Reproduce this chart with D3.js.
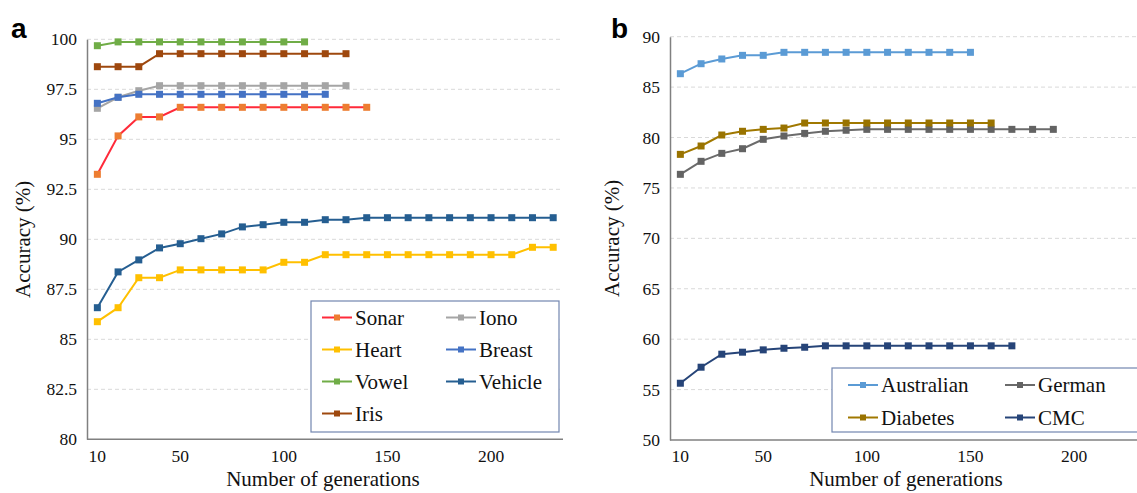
<!DOCTYPE html>
<html>
<head>
<meta charset="utf-8">
<script src="https://cdn.jsdelivr.net/npm/d3@7"></script>
<style>
  body { margin: 0; background: #fff; }
  svg text { font-family: "Liberation Serif", "Times New Roman", serif; }
</style>
</head>
<body>
<div id="chart"></div>
<script>
// generations (x categories), same for both panels
const generations = [10, 20, 30, 40, 50, 60, 70, 80, 90, 100, 110, 120, 130, 140, 150, 160, 170, 180, 190, 200, 210, 220, 230];
const xTickLabels = [10, 50, 100, 150, 200];

// panel a series (values start at generation 10)
const sonar   = [93.25, 95.17, 96.12, 96.12, 96.6, 96.6, 96.6, 96.6, 96.6, 96.6, 96.6, 96.6, 96.6, 96.6];
const iono    = [96.55, 97.1, 97.43, 97.68, 97.68, 97.68, 97.68, 97.68, 97.68, 97.68, 97.68, 97.68, 97.68];
const heart   = [85.88, 86.58, 88.08, 88.08, 88.47, 88.47, 88.47, 88.47, 88.47, 88.85, 88.85, 89.23, 89.23, 89.23, 89.23, 89.23, 89.23, 89.23, 89.23, 89.23, 89.23, 89.6, 89.6];
const breast  = [96.8, 97.1, 97.25, 97.25, 97.25, 97.25, 97.25, 97.25, 97.25, 97.25, 97.25, 97.25];
const vowel   = [99.68, 99.87, 99.87, 99.87, 99.87, 99.87, 99.87, 99.87, 99.87, 99.87, 99.87];
const vehicle = [86.58, 88.37, 88.97, 89.57, 89.78, 90.03, 90.27, 90.62, 90.73, 90.85, 90.85, 90.98, 90.98, 91.08, 91.08, 91.08, 91.08, 91.08, 91.08, 91.08, 91.08, 91.08, 91.08];
const iris    = [98.63, 98.63, 98.63, 99.28, 99.28, 99.28, 99.28, 99.28, 99.28, 99.28, 99.28, 99.28, 99.28];
const yTicksA = [80, 82.5, 85, 87.5, 90, 92.5, 95, 97.5, 100];

// panel b series
const australian = [86.33, 87.32, 87.79, 88.15, 88.15, 88.45, 88.45, 88.45, 88.45, 88.45, 88.45, 88.45, 88.45, 88.45, 88.45];
const german     = [76.35, 77.64, 78.43, 78.89, 79.82, 80.15, 80.41, 80.62, 80.72, 80.81, 80.81, 80.81, 80.81, 80.81, 80.81, 80.81, 80.81, 80.81, 80.81];
const diabetes   = [78.33, 79.16, 80.25, 80.62, 80.81, 80.94, 81.44, 81.44, 81.44, 81.44, 81.44, 81.44, 81.44, 81.44, 81.44, 81.44];
const cmc        = [55.63, 57.22, 58.51, 58.71, 58.94, 59.1, 59.2, 59.34, 59.34, 59.34, 59.34, 59.34, 59.34, 59.34, 59.34, 59.34, 59.34];
const yTicksB = [50, 55, 60, 65, 70, 75, 80, 85, 90];

// series tables: name, values, line colour, marker colour
const seriesA = [
  {name: "Sonar",   values: sonar,   line: "#ff2a3a", mark: "#ed7d31"},
  {name: "Iono",    values: iono,    line: "#a5a5a5", mark: "#a5a5a5"},
  {name: "Heart",   values: heart,   line: "#ffc000", mark: "#ffc000"},
  {name: "Breast",  values: breast,  line: "#4472c4", mark: "#4472c4"},
  {name: "Vowel",   values: vowel,   line: "#70ad47", mark: "#70ad47"},
  {name: "Vehicle", values: vehicle, line: "#255e91", mark: "#255e91"},
  {name: "Iris",    values: iris,    line: "#9e480e", mark: "#9e480e"}
];
// draw order so that the overlaps look like the picture
const drawOrderA = ["Heart", "Vehicle", "Sonar", "Iono", "Breast", "Iris", "Vowel"];

const seriesB = [
  {name: "Australian", values: australian, line: "#5b9bd5", mark: "#5b9bd5"},
  {name: "German",     values: german,     line: "#6b6b6b", mark: "#636363"},
  {name: "Diabetes",   values: diabetes,   line: "#a07800", mark: "#997300"},
  {name: "CMC",        values: cmc,        line: "#264478", mark: "#264478"}
];
const drawOrderB = ["CMC", "German", "Diabetes", "Australian"];

const W = 1137, H = 493;
const svg = d3.select("#chart").append("svg")
  .attr("width", W).attr("height", H);

function drawPanel(opt) {
  const g = svg.append("g");
  const x = d3.scaleBand().domain(generations)
    .range([opt.left, opt.left + generations.length * opt.step]);
  const y = d3.scaleLinear().domain(opt.yDomain).range([opt.bottom, opt.top]);
  const cx = d => x(d) + x.bandwidth() / 2;

  // gridlines
  g.selectAll("line.grid")
    .data(opt.yTicks.filter(t => t !== opt.yDomain[0]))
    .join("line")
      .attr("class", "grid")
      .attr("x1", opt.left).attr("x2", opt.gridEnd)
      .attr("y1", d => y(d)).attr("y2", d => y(d))
      .attr("stroke", "#d9d9d9").attr("stroke-width", 1)
      .attr("stroke-dasharray", "4,3");

  // y axis
  const yAxis = g.append("g")
    .attr("transform", `translate(${opt.left},0)`)
    .call(d3.axisLeft(y).tickValues(opt.yTicks).tickSize(0).tickPadding(10)
      .tickFormat(d => String(d)));
  yAxis.select(".domain").attr("stroke", "#808080").attr("stroke-width", 1.5);
  yAxis.selectAll("text").attr("font-size", 17.5).attr("fill", "#111")
    .style("font-family", '"Liberation Serif", serif');

  // x axis
  const xAxis = g.append("g")
    .attr("transform", `translate(0,${opt.bottom})`)
    .call(d3.axisBottom(x).tickValues(xTickLabels).tickSize(0).tickPadding(10));
  xAxis.select(".domain").attr("stroke", "#808080").attr("stroke-width", 1.5)
    .attr("d", `M${opt.left},0H${opt.xEnd}`);
  xAxis.selectAll("text").attr("font-size", 17.5).attr("fill", "#111")
    .style("font-family", '"Liberation Serif", serif');

  // axis titles
  g.append("text")
    .attr("x", opt.xTitleX).attr("y", 486)
    .attr("text-anchor", "middle").attr("font-size", 21).attr("fill", "#111")
    .text("Number of generations");
  g.append("text")
    .attr("transform", `translate(${opt.yTitleX},${(opt.top + opt.bottom) / 2}) rotate(-90)`)
    .attr("text-anchor", "middle").attr("font-size", 21).attr("fill", "#111")
    .text("Accuracy  (%)");

  // panel letter
  g.append("text")
    .attr("x", opt.letterX).attr("y", 38)
    .style("font-family", '"Liberation Sans", Arial, sans-serif')
    .attr("font-weight", "bold").attr("font-size", 28).attr("fill", "#000")
    .text(opt.letter);

  // lines and markers
  const line = d3.line().x((d, i) => cx(generations[i])).y(d => y(d));
  opt.order.forEach(name => {
    const s = opt.series.find(d => d.name === name);
    g.append("path")
      .datum(s.values)
      .attr("d", line)
      .attr("fill", "none").attr("stroke", s.line).attr("stroke-width", 2);
    g.selectAll(null)
      .data(s.values)
      .join("rect")
        .attr("x", (d, i) => cx(generations[i]) - 3.5)
        .attr("y", d => y(d) - 3.5)
        .attr("width", 7).attr("height", 7)
        .attr("fill", s.mark);
  });

  // legend
  const lg = g.append("g");
  lg.append("rect")
    .attr("x", opt.legend.x).attr("y", opt.legend.y)
    .attr("width", opt.legend.w).attr("height", opt.legend.h)
    .attr("fill", "#fff").attr("stroke", "#7286b0").attr("stroke-width", 1.2);
  opt.series.forEach((s, i) => {
    const col = i % 2, row = Math.floor(i / 2);
    const lx = opt.legend.x + opt.legend.pad + col * opt.legend.colW;
    const ly = opt.legend.y + opt.legend.firstRow + row * opt.legend.rowH;
    lg.append("line")
      .attr("x1", lx).attr("x2", lx + 30).attr("y1", ly).attr("y2", ly)
      .attr("stroke", s.line).attr("stroke-width", 2);
    lg.append("rect")
      .attr("x", lx + 15 - 3).attr("y", ly - 3).attr("width", 6).attr("height", 6)
      .attr("fill", s.mark);
    lg.append("text")
      .attr("x", lx + 33).attr("y", ly).attr("dy", "0.35em")
      .attr("font-size", 21).attr("fill", "#111")
      .text(s.name);
  });
}

drawPanel({
  letter: "a", letterX: 11,
  series: seriesA, order: drawOrderA,
  left: 87, step: 20.72, top: 39.3, bottom: 439.3, xEnd: 563, gridEnd: 563,
  yDomain: [80, 100], yTicks: yTicksA,
  xTitleX: 323, yTitleX: 30,
  legend: {x: 311, y: 301, w: 248, h: 131, pad: 11, colW: 124, firstRow: 16.5, rowH: 32}
});

drawPanel({
  letter: "b", letterX: 611,
  series: seriesB, order: drawOrderB,
  left: 670, step: 20.72, top: 36.7, bottom: 440, xEnd: 1137, gridEnd: 1137,
  yDomain: [50, 90], yTicks: yTicksB,
  xTitleX: 906, yTitleX: 619,
  legend: {x: 832, y: 368, w: 310, h: 64, pad: 16, colW: 157, firstRow: 17, rowH: 32.5}
});
</script>
</body>
</html>
